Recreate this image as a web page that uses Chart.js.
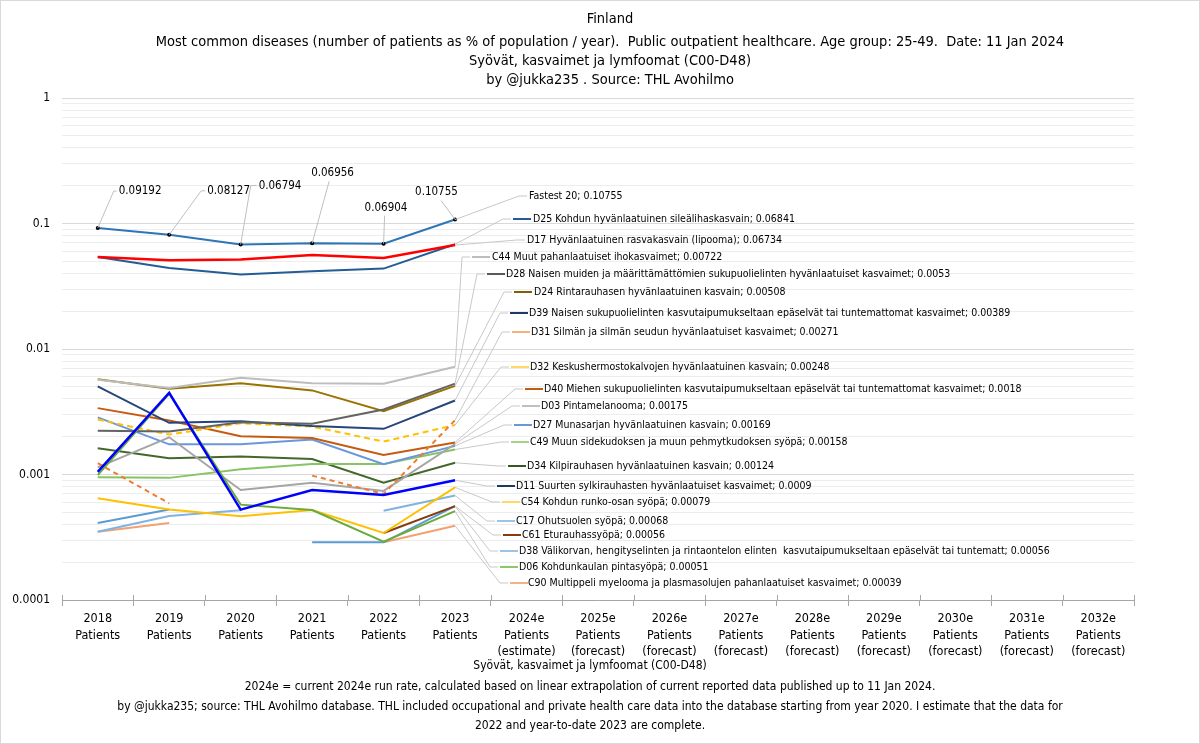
<!DOCTYPE html>
<html><head><meta charset="utf-8">
<script src="https://cdn.jsdelivr.net/npm/chart.js@4.4.1/dist/chart.umd.min.js"></script>
<style>html,body{margin:0;padding:0;background:#fff;}canvas{display:block;}</style>
</head><body>
<canvas id="c" width="1200" height="744"></canvas>
<script>
// ---------- DATA ----------
const categories = [
  ['2018','Patients'],['2019','Patients'],['2020','Patients'],['2021','Patients'],
  ['2022','Patients'],['2023','Patients'],['2024e','Patients','(estimate)'],
  ['2025e','Patients','(forecast)'],['2026e','Patients','(forecast)'],['2027e','Patients','(forecast)'],
  ['2028e','Patients','(forecast)'],['2029e','Patients','(forecast)'],['2030e','Patients','(forecast)'],
  ['2031e','Patients','(forecast)'],['2032e','Patients','(forecast)']
];
const yTickValues = [0.0001, 0.001, 0.01, 0.1, 1];
const yTickLabels = ['0.0001', '0.001', '0.01', '0.1', '1'];

const fastest20 = [0.09192, 0.08127, 0.06794, 0.06956, 0.06904, 0.10755];
const d25 = [0.0541, 0.0442, 0.0392, 0.0416, 0.0437, 0.06841];
const d17 = [0.0541, 0.0509, 0.0516, 0.0562, 0.0531, 0.06734];
const c44 = [0.00569, 0.00488, 0.0059, 0.00534, 0.00529, 0.00722];
const d28 = [0.00223, 0.0022, 0.00261, 0.00254, 0.0033, 0.0053];
const d24 = [0.00575, 0.00482, 0.00534, 0.00468, 0.00319, 0.00508];
const d39 = [0.00503, 0.00258, 0.00266, 0.00243, 0.00231, 0.00389];
const d31 = [0.00123, 0.000589, null, 0.00098, 0.0007, 0.00271];
const d32 = [0.00274, 0.00208, 0.00256, 0.00241, 0.00183, 0.00248];
const d40 = [0.00338, 0.00269, 0.00202, 0.00195, 0.00143, 0.0018];
const d03 = [0.00114, 0.00198, 0.000753, 0.00086, 0.00074, 0.00175];
const d27 = [0.00285, 0.00174, 0.00174, 0.0019, 0.00121, 0.00169];
const c49 = [0.00095, 0.00094, 0.0011, 0.00121, 0.00121, 0.00158];
const d34 = [0.00162, 0.00135, 0.00139, 0.00133, 0.00086, 0.00124];
const d11 = [0.00105, 0.00448, 0.000525, 0.000753, 0.000687, 0.0009];
const c54 = [0.000646, 0.000527, 0.000464, 0.000521, 0.000342, 0.00079];
const c17 = [0.00035, 0.000467, 0.00052, null, 0.000515, 0.00068];
const c61 = [null, null, null, null, 0.000342, 0.00056];
const d38 = [0.00041, 0.000527, null, 0.000288, 0.000288, 0.00056];
const d06 = [0.00099, 0.0044, 0.000575, 0.000521, 0.000291, 0.00051];
const c90 = [0.00035, 0.00041, null, null, 0.000288, 0.00039];

const seriesNames = [
  'Fastest 20',
  'D25 Kohdun hyvänlaatuinen sileälihaskasvain',
  'D17 Hyvänlaatuinen rasvakasvain (lipooma)',
  'C44 Muut pahanlaatuiset ihokasvaimet',
  'D28 Naisen muiden ja määrittämättömien sukupuolielinten hyvänlaatuiset kasvaimet',
  'D24 Rintarauhasen hyvänlaatuinen kasvain',
  'D39 Naisen sukupuolielinten kasvutaipumukseltaan epäselvät tai tuntemattomat kasvaimet',
  'D31 Silmän ja silmän seudun hyvänlaatuiset kasvaimet',
  'D32 Keskushermostokalvojen hyvänlaatuinen kasvain',
  'D40 Miehen sukupuolielinten kasvutaipumukseltaan epäselvät tai tuntemattomat kasvaimet',
  'D03 Pintamelanooma',
  'D27 Munasarjan hyvänlaatuinen kasvain',
  'C49 Muun sidekudoksen ja muun pehmytkudoksen syöpä',
  'D34 Kilpirauhasen hyvänlaatuinen kasvain',
  'D11 Suurten sylkirauhasten hyvänlaatuiset kasvaimet',
  'C54 Kohdun runko-osan syöpä',
  'C17 Ohutsuolen syöpä',
  'C61 Eturauhassyöpä',
  'D38 Välikorvan, hengityselinten ja rintaontelon elinten  kasvutaipumukseltaan epäselvät tai tuntematt',
  'D06 Kohdunkaulan pintasyöpä',
  'C90 Multippeli myelooma ja plasmasolujen pahanlaatuiset kasvaimet'
];
const seriesValues = [fastest20, d25, d17, c44, d28, d24, d39, d31, d32, d40, d03, d27, c49, d34, d11, c54, c17, c61, d38, d06, c90];

const titleLines = [
  'Finland',
  'Most common diseases (number of patients as % of population / year).  Public outpatient healthcare. Age group: 25-49.  Date: 11 Jan 2024',
  'Syövät, kasvaimet ja lymfoomat (C00-D48)',
  'by @jukka235 . Source: THL Avohilmo'
];
const footerLines = [
  'Syövät, kasvaimet ja lymfoomat (C00-D48)',
  '2024e = current 2024e run rate, calculated based on linear extrapolation of current reported data published up to 11 Jan 2024.',
  'by @jukka235; source: THL Avohilmo database. THL included occupational and private health care data into the database starting from year 2020. I estimate that the data for',
  '2022 and year-to-date 2023 are complete.'
];

// ---------- STYLE ----------
const FONT = "'DejaVu Sans Condensed', 'Liberation Sans', sans-serif";
const lineColors = ['#2E75B6','#245C95','#FF0000','#BDBDBD','#636363','#997300','#26457A','#ED7D31','#FFC000','#C55A11','#A5A5A5','#6A97DB','#86C464','#43682B','#0000FF','#FFC000','#7FB3E2','#843C0C','#5B9BD5','#6AAB3C','#F4A071'];
const keyColors = [null,'#245C95',null,'#BDBDBD','#595959','#7F6000','#203864','#F4B183','#FFD966','#C55A11','#BFBFBF','#6A97DB','#A9D18E','#375623','#203864','#FFD966','#9DC3E6','#843C0C','#9DC3E6','#8CC86A','#F4B183'];
const lineWidths = [2,2,2.5,2,2,2,2,2,2,2,2,2,2,2,2.5,2,2,2,2,2,2];
const lineDashes = {7:[5,4], 8:[6,4]};
// right-side label layout: [key x (null = no key), text x, y]
const labelLayout = [
  [null,529,196],[513,533,219],[null,527,240],[472,492,257],[487,506,274],[514,534,292],
  [510,529,313],[512,531,332],[511,530,367],[525,544,389],[522,541,406],[514,533,425],
  [511,530,442],[508,527,466],[497,516,486],[502,521,502],[497,516,521],[503,522,535],
  [500,519,551],[500,519,567],[510,528,583]
];
// value labels of the first series: offsets from point [text dx, text dy, leader dx, leader dy, stub]
const valueLabelOffsets = [
  [21,-37,16,-37,true],[38,-44,32,-44,true],[18,-59,10,-59,true],
  [-1,-70,17,-62,false],[-19,-36,1,-28,false],[-40,-28,-14,-19,false]
];

// ---------- CHART ----------
const yGrid = [];
yTickValues.forEach((d, i) => {
  yGrid.push(d);
  if (i < yTickValues.length - 1) for (let m = 2; m <= 9; m++) yGrid.push(m * d);
});

const datasets = seriesValues.map((vals, i) => ({
  label: seriesNames[i],
  data: vals,
  borderColor: lineColors[i],
  backgroundColor: lineColors[i],
  borderWidth: lineWidths[i],
  borderDash: lineDashes[i] || [],
  pointRadius: i === 0 ? 2 : 0,
  pointBackgroundColor: '#000',
  pointBorderWidth: 0,
  spanGaps: false,
  tension: 0,
  fill: false
}));
const order = [0,2,1,14,19,3,4,5,6,7,8,9,10,11,12,13,15,16,17,18,20];
order.forEach((idx, k) => { datasets[idx].order = k; });

const overlay = {
  id: 'overlay',
  afterDraw(chart) {
    const ctx = chart.ctx, xs = chart.scales.x, ys = chart.scales.y;
    ctx.save();
    ctx.fillStyle = '#000';
    ctx.textAlign = 'center';
    ctx.textBaseline = 'middle';
    ctx.font = '14.5px ' + FONT;
    const ty = [19, 42, 61, 80];
    titleLines.forEach((t, i) => ctx.fillText(t, 610, ty[i]));
    ctx.font = '12px ' + FONT;
    const fy = [666, 687, 707, 726];
    footerLines.forEach((t, i) => ctx.fillText(t, 590, fy[i]));

    ctx.strokeStyle = '#A6A6A6';
    ctx.lineWidth = 1;
    const n = categories.length;
    for (let i = 0; i <= n; i++) {
      const x = Math.round(xs.left + i * (xs.right - xs.left) / n) + 0.5;
      ctx.beginPath(); ctx.moveTo(x, ys.bottom - 5); ctx.lineTo(x, ys.bottom); ctx.stroke();
    }

    ctx.textAlign = 'left';
    ctx.font = '11.5px ' + FONT;
    fastest20.forEach((v, i) => {
      const px = xs.getPixelForValue(i), py = ys.getPixelForValue(v);
      const o = valueLabelOffsets[i];
      const tx = px + o[0], tyy = py + o[1];
      ctx.strokeStyle = '#BFBFBF'; ctx.lineWidth = 1;
      ctx.beginPath(); ctx.moveTo(px, py); ctx.lineTo(px + o[2], py + o[3]);
      if (o[4]) ctx.lineTo(tx - 2, tyy);
      ctx.stroke();
      ctx.fillStyle = '#000';
      ctx.fillText(String(v), tx, tyy);
    });

    ctx.font = '10.5px ' + FONT;
    seriesValues.forEach((vals, i) => {
      const last = vals.length - 1;
      const px = xs.getPixelForValue(last), py = ys.getPixelForValue(vals[last]);
      const [kx, tx, ly] = labelLayout[i];
      const start = kx !== null ? kx : tx;
      ctx.strokeStyle = '#C8C8C8'; ctx.lineWidth = 1; ctx.setLineDash([]);
      ctx.beginPath(); ctx.moveTo(px, py); ctx.lineTo(start - 10, ly); ctx.lineTo(start - 2, ly); ctx.stroke();
      if (kx !== null) {
        ctx.strokeStyle = keyColors[i]; ctx.lineWidth = 2;
        ctx.beginPath(); ctx.moveTo(kx, ly); ctx.lineTo(kx + 18, ly); ctx.stroke();
      }
      ctx.fillStyle = '#000';
      ctx.fillText(seriesNames[i] + '; ' + String(vals[last]), tx, ly);
    });

    ctx.strokeStyle = '#D9D9D9'; ctx.lineWidth = 1;
    ctx.strokeRect(0.5, 0.5, chart.width - 1, chart.height - 1);
    ctx.restore();
  }
};

new Chart(document.getElementById('c'), {
  type: 'line',
  data: { labels: categories, datasets },
  options: {
    responsive: false,
    animation: false,
    devicePixelRatio: 1,
    layout: { padding: { top: 98, left: 0, right: 66, bottom: 0 } },
    plugins: { legend: { display: false }, tooltip: { enabled: false }, title: { display: false } },
    scales: {
      x: {
        type: 'category',
        offset: true,
        grid: { offset: true, drawOnChartArea: false, drawTicks: true, tickLength: 6, color: '#A6A6A6' },
        border: { color: '#A6A6A6', width: 1 },
        ticks: { font: { family: FONT, size: 12.5, lineHeight: 1.3 }, color: '#000', maxRotation: 0, minRotation: 0, autoSkip: false, padding: 5 },
        afterFit: s => { s.height = 144; }
      },
      y: {
        type: 'logarithmic',
        min: 0.0001, max: 1,
        afterBuildTicks: s => { s.ticks = yGrid.map(v => ({ value: v, major: yTickValues.includes(v) })); },
        ticks: {
          autoSkip: false,
          font: { family: FONT, size: 12 }, color: '#000', padding: 12,
          callback: v => { const k = yTickValues.indexOf(v); return k >= 0 ? yTickLabels[k] : ''; }
        },
        grid: { drawTicks: false, color: c => (c.tick && yTickValues.includes(c.tick.value)) ? '#D9D9D9' : '#EDEDED' },
        border: { display: false },
        afterFit: s => { s.width = 62; }
      }
    }
  },
  plugins: [overlay]
});
</script>
</body></html>
